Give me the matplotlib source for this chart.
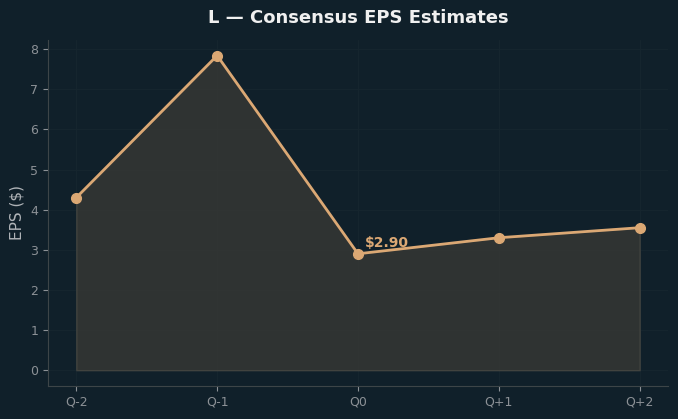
import numpy as np
import matplotlib
matplotlib.use('Agg')
import matplotlib.pyplot as plt

quarters = ['Q-2', 'Q-1', 'Q0', 'Q+1', 'Q+2']
eps = [4.30, 7.84, 2.90, 3.30, 3.55]
current_idx = 2

bg = '#10202a'
line_color = '#dba874'
text_grey = '#8c9196'

fig, ax = plt.subplots(figsize=(6.78, 4.19), dpi=100)
fig.patch.set_facecolor(bg)
ax.set_facecolor(bg)

x = np.arange(len(quarters))
ax.fill_between(x, eps, 0, color='#3a3a36', alpha=0.75, edgecolor='#4a4a44', linewidth=1)
ax.plot(x, eps, color=line_color, linewidth=2, marker='o', markersize=7, zorder=3)
ax.annotate(f'${eps[current_idx]:.2f}', xy=(x[current_idx], eps[current_idx]),
            xytext=(5, 5), textcoords='offset points',
            color=line_color, fontsize=10, fontweight='bold')

ax.set_xticks(x)
ax.set_xticklabels(quarters)
ax.set_ylabel('EPS ($)', color='#b0b4b8', fontsize=11)
ax.set_title('L — Consensus EPS Estimates', color='#f0f0f0', fontsize=13,
             fontweight='bold', pad=12)

ax.grid(True, color='#17262f', linewidth=0.6)
ax.set_axisbelow(True)
ax.tick_params(colors=text_grey, labelsize=9)
for s in ['top', 'right']:
    ax.spines[s].set_visible(False)
for s in ['left', 'bottom']:
    ax.spines[s].set_color('#3d4548')

plt.subplots_adjust(left=0.071, right=0.985, top=0.905, bottom=0.079)
plt.savefig('out.png', dpi=100, facecolor=bg)
